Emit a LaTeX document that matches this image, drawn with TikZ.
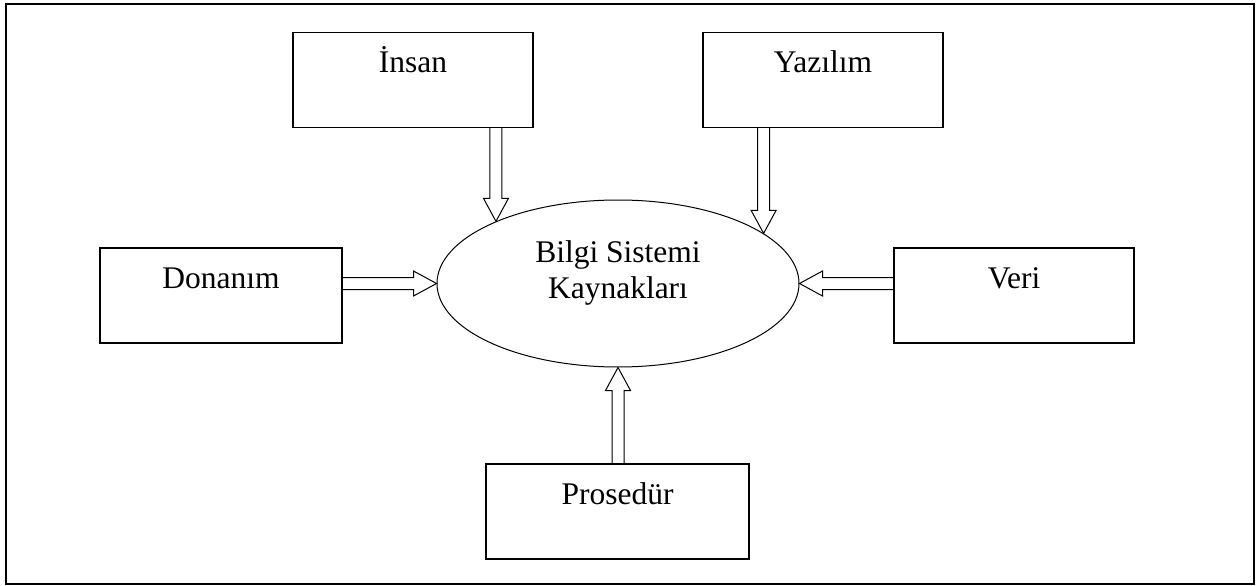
\documentclass[tikz,border=0pt]{standalone}
\usepackage{fontspec}
\setmainfont{Liberation Serif}
\usetikzlibrary{shapes.geometric,calc}

\tikzset{
  every node/.style={font=\fontsize{31.5}{36}\selectfont},
  box/.style={draw, line width=1.2pt, inner sep=0pt, minimum width=240pt,
              text height=40pt, text depth=55pt},
  hub/.style={draw, ellipse, line width=1pt, inner sep=0pt,
              minimum width=362pt, minimum height=167pt},
  flow/.style={draw, line width=1pt, line join=miter},
  frame/.style={draw, line width=1.8pt},
}

% hollow block arrow from #1 (open tail) to #2 (tip)
\newcommand{\hollowarrow}[2]{%
  \coordinate (hb) at ($(#2)!23pt!(#1)$);
  \draw[flow] ($(#1)!6pt!90:(#2)$) -- ($(hb)!6pt!90:(#2)$)
    -- ($(hb)!12.5pt!90:(#2)$) -- (#2) -- ($(hb)!12.5pt!-90:(#2)$)
    -- ($(hb)!6pt!-90:(#2)$) -- ($(#1)!6pt!-90:(#2)$);
}

\begin{document}
\begin{tikzpicture}[x=1pt, y=1pt]
  \useasboundingbox (0,0) rectangle (1259,-586);
  \draw[frame] (6,-4) rectangle (1254,-584);

  % central resource pool
  \node[hub] (bsk) at (618,-283.5)
    {\raisebox{-14.5pt}[0pt][0pt]{\begin{tabular}[b]{@{}c@{}}Bilgi Sistemi\\Kaynakları\end{tabular}}};

  % resource boxes
  \node[box] (insan) at (413,-80) {İnsan};
  \node[box] (yazilim) at (823,-80) {Yazılım};
  \node[box, minimum width=242pt] (donanim) at (221,-295.5) {Donanım};
  \node[box] (veri) at (1014,-295.5) {Veri};
  \node[box, minimum width=263pt] (prosedur) at (617.5,-511.5) {Prosedür};

  % arrow start points on the box edges
  \coordinate (insanOut) at (insan.south -| bsk.153);
  \coordinate (yazilimOut) at (yazilim.south -| bsk.19);
  \coordinate (donanimOut) at (donanim.east |- bsk.west);
  \coordinate (veriOut) at (veri.west |- bsk.east);
  \coordinate (prosedurOut) at (prosedur.north -| bsk.south);

  \hollowarrow{insanOut}{bsk.153}
  \hollowarrow{yazilimOut}{bsk.19}
  \hollowarrow{donanimOut}{bsk.west}
  \hollowarrow{veriOut}{bsk.east}
  \hollowarrow{prosedurOut}{bsk.south}
\end{tikzpicture}
\end{document}
